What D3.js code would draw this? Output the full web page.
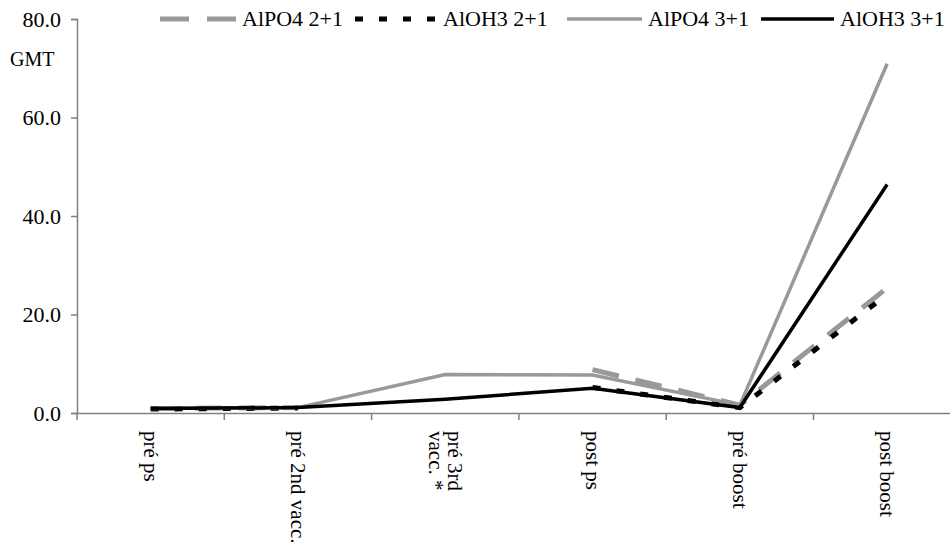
<!DOCTYPE html>
<html><head><meta charset="utf-8">
<script src="https://cdn.jsdelivr.net/npm/d3@7"></script>
<style>body{margin:0;background:#fff}svg{display:block}text{font-family:"Liberation Serif","Times New Roman",serif}</style>
</head><body>
<svg id="c" width="950" height="547"></svg>
<script>
const categories = ["pré ps", "pré 2nd vacc.", "pré 3rd|vacc. *", "post ps", "pré boost", "post boost"];
const seriesNames = ["AlPO4 2+1", "AlOH3 2+1", "AlPO4 3+1", "AlOH3 3+1"];
const alpo4_21 = [0.9, 1.1, null, 8.8, 1.6, 25.4];
const aloh3_21 = [0.8, 1.0, null, 5.2, 1.1, 24.1];
const alpo4_31 = [0.9, 1.1, 7.8, 7.7, 1.6, 70.9];
const aloh3_31 = [0.9, 1.1, 2.8, 5.0, 1.1, 46.4];
const yTicks = [0, 20, 40, 60, 80];

const svg = d3.select("#c");
const mLeft = 77, bandW = 147.3, mTop = 19, mBottom = 413;
const x = d3.scaleBand().domain(categories).range([mLeft, mLeft + bandW * categories.length]).padding(0);
const y = d3.scaleLinear().domain([0, 80]).range([mBottom, mTop]);
const axisColor = "#808080";

const styles = [
  {color: "#999999", width: 5, dash: "27,17"},
  {color: "#000000", width: 5, dash: "8,16"},
  {color: "#999999", width: 3.5, dash: null},
  {color: "#000000", width: 3.5, dash: null}
];
const data = [alpo4_21, aloh3_21, alpo4_31, aloh3_31];

// y axis
const yAxis = d3.axisLeft(y).tickValues(yTicks).tickFormat(d3.format(".1f")).tickSize(6).tickPadding(10);
const gy = svg.append("g").attr("transform", `translate(${mLeft},0)`).call(yAxis);
gy.attr("font-family", null);
gy.select(".domain").attr("stroke", axisColor).attr("stroke-width", 1.5);
gy.selectAll(".tick line").attr("stroke", axisColor).attr("stroke-width", 1.5);
gy.selectAll(".tick text").attr("font-size", 22).attr("fill", "#000");

svg.append("text").attr("x", 10).attr("y", 66).attr("font-size", 20).text("GMT");

// x axis
const xAxis = d3.axisBottom(x).tickSize(0).tickFormat("");
const gx = svg.append("g").attr("transform", `translate(0,${mBottom})`).call(xAxis);
gx.select(".domain").attr("stroke", axisColor).attr("stroke-width", 1.5);
gx.selectAll(".tick").remove();
const bounds = categories.map(c => x(c)).concat([x(categories[categories.length - 1]) + x.bandwidth()]);
gx.selectAll("line.bt").data(bounds).join("line").attr("class", "bt")
  .attr("x1", d => d).attr("x2", d => d).attr("y1", 0).attr("y2", 7)
  .attr("stroke", axisColor).attr("stroke-width", 1.5);

categories.forEach(c => {
  const lines = c.split("|");
  const cx = x(c) + x.bandwidth() / 2;
  const n = lines.length;
  lines.forEach((ln, i) => {
    const off = (i - (n - 1) / 2) * -19;
    svg.append("text")
      .attr("transform", `translate(${cx + off - 7},${mBottom + 18}) rotate(90)`)
      .attr("font-size", 21).attr("text-anchor", "start").text(ln);
  });
});

// lines
const line = d3.line()
  .defined(d => d.v != null)
  .x(d => x(d.c) + x.bandwidth() / 2)
  .y(d => y(d.v));
data.forEach((vals, i) => {
  const pts = vals.map((v, j) => ({c: categories[j], v}));
  svg.append("path").datum(pts).attr("d", line)
    .attr("fill", "none").attr("stroke", styles[i].color)
    .attr("stroke-width", styles[i].width)
    .attr("stroke-dasharray", styles[i].dash)
    .attr("stroke-linejoin", "miter");
});

// legend
const legX = [160, 355, 567, 761];
const legLen = [76, 82, 75, 73];
const legY = 19;
seriesNames.forEach((name, i) => {
  svg.append("line").attr("x1", legX[i]).attr("x2", legX[i] + legLen[i])
    .attr("y1", legY).attr("y2", legY)
    .attr("stroke", styles[i].color).attr("stroke-width", styles[i].width)
    .attr("stroke-dasharray", i === 0 ? "29,18" : styles[i].dash);
  svg.append("text").attr("x", legX[i] + legLen[i] + 6).attr("y", legY + 7)
    .attr("font-size", 22).text(name);
});
</script>
</body></html>
